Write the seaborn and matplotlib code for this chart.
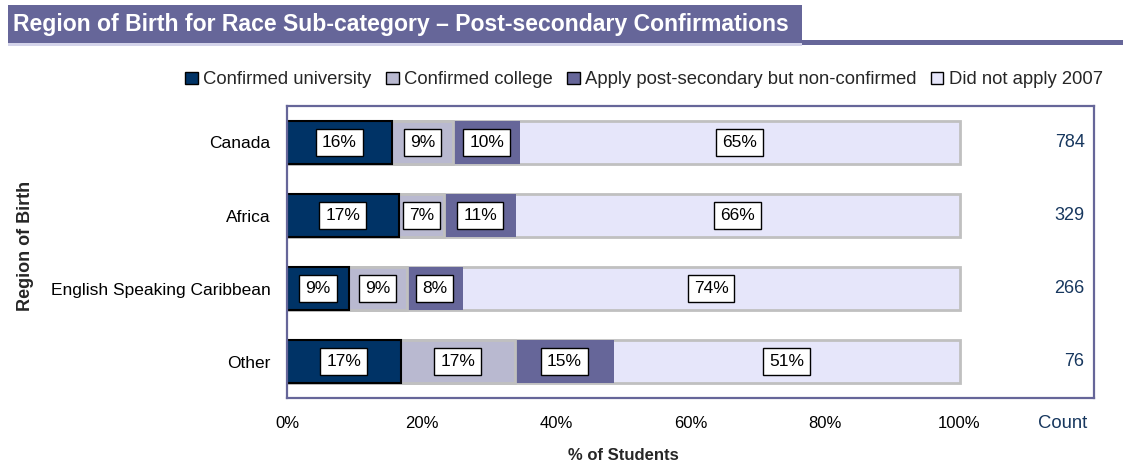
import matplotlib
matplotlib.use("Agg")
import matplotlib.pyplot as plt
import matplotlib.transforms as mtransforms
from matplotlib.patches import Patch, Rectangle
import numpy as np
import pandas as pd
import seaborn as sns

# ---------------- data ----------------
regions = ["Canada", "Africa", "English Speaking Caribbean", "Other"]
series_names = ["Confirmed university", "Confirmed college",
                "Apply post-secondary but non-confirmed", "Did not apply 2007"]
confirmed_university = [15.6, 16.6, 9.2, 16.9]
confirmed_college = [9.1, 6.8, 8.6, 17.0]
apply_non_confirmed = [10.0, 10.7, 8.3, 14.7]
did_not_apply = [65.3, 65.9, 73.9, 51.4]
counts = [784, 329, 266, 76]
x_ticks = [0, 20, 40, 60, 80, 100, 120]
x_tick_labels = ["0%", "20%", "40%", "60%", "80%", "100%", ""]

title = "Region of Birth for Race Sub-category \u2013 Post-secondary Confirmations"

# ---------------- style ----------------
sns.set_style("white")
plt.rcParams["font.family"] = ["Liberation Sans", "DejaVu Sans"]

purple = "#666699"
navy = "#003366"
college_c = "#B9B9D0"
dna_c = "#E6E6FA"
count_c = "#17375E"

fig = plt.figure(figsize=(11.23, 4.61), dpi=100)
ax = fig.add_axes([287 / 1123, 1 - 398 / 461, (1094 - 287) / 1123, (398 - 106) / 461])

series = [confirmed_university, confirmed_college, apply_non_confirmed, did_not_apply]
colors = [navy, college_c, purple, dna_c]
edges = ["black", "#C0C0C0", purple, "#C0C0C0"]
lws = [1.5, 2.0, 0.0, 2.0]

arr = np.array(series)
cum = np.cumsum(arr, axis=0)

# stacked bars: draw cumulative totals from the largest down
for k in range(3, -1, -1):
    df = pd.DataFrame({"region": regions, "value": cum[k]})
    sns.barplot(data=df, y="region", x="value", orient="h", color=colors[k],
                width=0.6, edgecolor=edges[k], linewidth=lws[k],
                saturation=1, ax=ax)

# value labels
for k in range(4):
    for i in range(len(regions)):
        v = arr[k, i]
        xc = cum[k, i] - v / 2
        ax.text(xc, i, f"{round(v):d}%", ha="center", va="center", fontsize=12.5,
                color="black",
                bbox=dict(boxstyle="square,pad=0.35", fc="white", ec="black", lw=1))

# counts
for i, c in enumerate(counts):
    ax.text(118.6, i, f"{c}", ha="right", va="center", fontsize=13, color=count_c)

ax.set_xlim(0, 120)
ax.set_ylim(3.5, -0.5)
ax.set_xticks(x_ticks)
ax.set_xticklabels(x_tick_labels, fontsize=12)
ax.tick_params(axis="x", direction="inout", length=10, width=1.2, color=purple,
               pad=8, labelcolor="black")
ax.tick_params(axis="y", length=0, pad=12, labelsize=12.5, labelcolor="black")
ax.set_xlabel("")
ax.set_ylabel("")
for s in ax.spines.values():
    s.set_visible(True)
    s.set_color(purple)
    s.set_linewidth(1.6)

trans = mtransforms.blended_transform_factory(ax.transData, ax.transAxes)
ax.text(115.3, -25 / 292, "Count", transform=trans, ha="center", va="center",
        fontsize=13.3, color=count_c)
ax.text(50, -57 / 292, "% of Students", transform=trans, ha="center", va="center",
        fontsize=12, fontweight="bold")

fig.text(25 / 1123, 1 - 246 / 461, "Region of Birth", rotation=90, ha="center",
         va="center", fontsize=13, fontweight="bold")

# legend
handles = [Patch(facecolor=colors[k], edgecolor="black", linewidth=1.0)
           for k in range(4)]
fig.legend(handles, series_names, loc="center", ncol=4,
           bbox_to_anchor=(644 / 1123, 1 - 80 / 461), frameon=False, fontsize=13.3,
           handlelength=0.7, handleheight=0.7, handletextpad=0.3, columnspacing=0.75,
           borderaxespad=0)

# title banner
fig.patches.append(Rectangle((8 / 1123, 1 - 43 / 461), (802 - 8) / 1123, 38 / 461,
                             transform=fig.transFigure, facecolor=purple,
                             edgecolor="none", zorder=0))
fig.patches.append(Rectangle((8 / 1123, 1 - 46 / 461), (802 - 8) / 1123, 3 / 461,
                             transform=fig.transFigure, facecolor="#D4D4EA",
                             edgecolor="none", zorder=0))
fig.patches.append(Rectangle((802 / 1123, 1 - 45 / 461), (1123 - 802) / 1123, 5 / 461,
                             transform=fig.transFigure, facecolor=purple,
                             edgecolor="none", zorder=0))
fig.text(13 / 1123, 1 - 24 / 461, title, ha="left", va="center", fontsize=16.6,
         fontweight="bold", color="white")

fig.savefig("out.png", dpi=100)
